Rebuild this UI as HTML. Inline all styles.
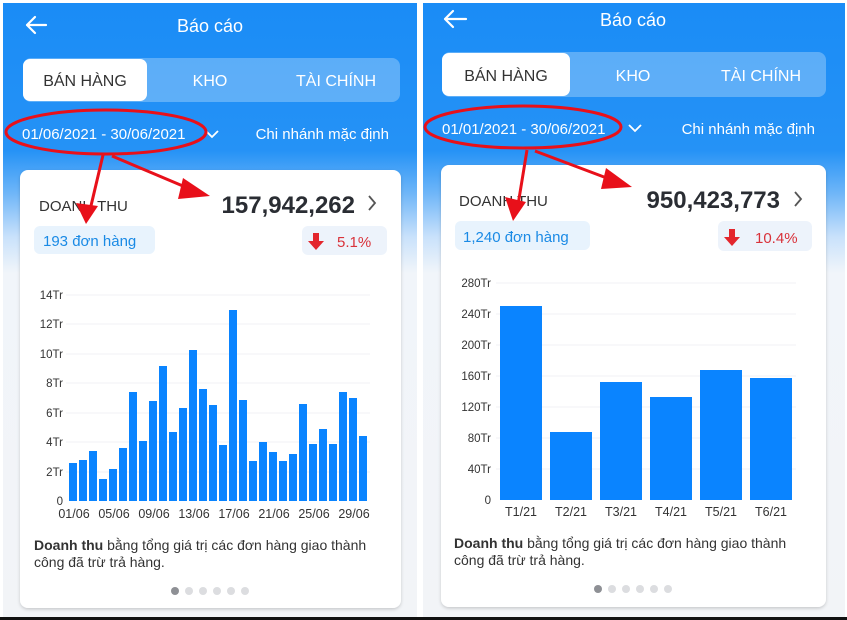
<!DOCTYPE html>
<html><head><meta charset="utf-8"><style>
html,body{margin:0;padding:0;background:#fff;width:847px;height:620px;overflow:hidden}
svg{display:block;font-family:"Liberation Sans",Arial,sans-serif}
</style></head><body>
<svg width="847" height="620" viewBox="0 0 847 620" xmlns="http://www.w3.org/2000/svg">
<defs>
<linearGradient id="bg" x1="0" y1="0" x2="0" y2="1">
<stop offset="0" stop-color="#1a8cf6"/>
<stop offset="0.24" stop-color="#2592f6"/>
<stop offset="0.31" stop-color="#6fb6f8"/>
<stop offset="0.38" stop-color="#c8e1fb"/>
<stop offset="0.44" stop-color="#f1f5fa"/>
<stop offset="1" stop-color="#f2f4f7"/>
</linearGradient>
<filter id="sh" x="-5%" y="-5%" width="110%" height="110%"><feDropShadow dx="0" dy="1.5" stdDeviation="1.5" flood-color="#000" flood-opacity="0.18"/></filter>
</defs>
<rect width="847" height="620" fill="#fff"/>
<rect x="3" y="3" width="414" height="614" fill="url(#bg)"/>
<rect x="423" y="3" width="422" height="614" fill="url(#bg)"/>
<rect x="0" y="617" width="847" height="3" fill="#111"/>

<!-- LEFT PANEL -->
<g>
<path d="M27 25 L46 25 M27 25 L35 17 M27 25 L35 33" stroke="#fff" stroke-width="2.2" fill="none" stroke-linecap="round"/>
<text x="210" y="32" fill="#fff" font-size="18" text-anchor="middle">Báo cáo</text>
<rect x="23" y="58" width="377" height="44" rx="8" fill="#fff" fill-opacity="0.28"/>
<rect x="23" y="59" width="124" height="42" rx="7" fill="#fff"/>
<text x="85" y="86" fill="#333" font-size="16" text-anchor="middle">BÁN HÀNG</text>
<text x="210" y="86" fill="#fff" font-size="16" text-anchor="middle">KHO</text>
<text x="336" y="86" fill="#fff" font-size="16" text-anchor="middle">TÀI CHÍNH</text>
<text x="22" y="139" fill="#fff" font-size="15">01/06/2021 - 30/06/2021</text>
<path d="M206 131 L212 137 L218 131" stroke="#fff" stroke-width="1.8" fill="none"/>
<text x="389" y="139" fill="#fff" font-size="15" text-anchor="end">Chi nhánh mặc định</text>
<ellipse cx="106" cy="132" rx="100" ry="22" fill="none" stroke="#e8101a" stroke-width="3"/>
<rect x="20" y="170" width="381" height="438" rx="8" fill="#fff" filter="url(#sh)"/>
<text x="39" y="211" fill="#333" font-size="15">DOANH THU</text>
<text x="355" y="213" fill="#2a2d33" font-size="24" font-weight="bold" text-anchor="end">157,942,262</text>
<path d="M369 196 L375 203 L369 210" stroke="#555" stroke-width="1.8" fill="none"/>
<rect x="34" y="226" width="121" height="28" rx="6" fill="#e8f3fd"/>
<text x="43" y="246" fill="#1a8ae5" font-size="15">193 đơn hàng</text>
<rect x="302" y="226" width="85" height="29" rx="6" fill="#edf3fb"/>
<path d="M313 233 h6 v8 h5 l-8 9 l-8 -9 h5 z" fill="#e3262d"/>
<text x="337" y="247" fill="#d9323a" font-size="15">5.1%</text>
<g stroke="#e8101a" stroke-width="3" fill="#e8101a">
<line x1="103" y1="155" x2="90" y2="210"/>
<polygon points="76,203 86,224 98,206" stroke="none"/>
<line x1="112" y1="156" x2="190" y2="189"/>
<polygon points="183,178 210,196 178,199" stroke="none"/>
</g>
<g stroke="#f1f2f4" stroke-width="1">
<line x1="66" y1="295" x2="370" y2="295"/><line x1="66" y1="324" x2="370" y2="324"/>
<line x1="66" y1="354" x2="370" y2="354"/><line x1="66" y1="383" x2="370" y2="383"/>
<line x1="66" y1="413" x2="370" y2="413"/><line x1="66" y1="442" x2="370" y2="442"/>
<line x1="66" y1="472" x2="370" y2="472"/>
</g>
<g font-size="11.5" fill="#333" text-anchor="end">
<text x="63" y="299">14Tr</text><text x="63" y="328">12Tr</text><text x="63" y="358">10Tr</text>
<text x="63" y="387">8Tr</text><text x="63" y="417">6Tr</text><text x="63" y="446">4Tr</text>
<text x="63" y="476">2Tr</text><text x="63" y="505">0</text>
</g>
<g fill="#0a84ff">
<rect x="69" y="463" width="8" height="38"/><rect x="79" y="460" width="8" height="41"/>
<rect x="89" y="451" width="8" height="50"/><rect x="99" y="479" width="8" height="22"/>
<rect x="109" y="469" width="8" height="32"/><rect x="119" y="448" width="8" height="53"/>
<rect x="129" y="392" width="8" height="109"/><rect x="139" y="441" width="8" height="60"/>
<rect x="149" y="401" width="8" height="100"/><rect x="159" y="366" width="8" height="135"/>
<rect x="169" y="432" width="8" height="69"/><rect x="179" y="408" width="8" height="93"/>
<rect x="189" y="350" width="8" height="151"/><rect x="199" y="389" width="8" height="112"/>
<rect x="209" y="405" width="8" height="96"/><rect x="219" y="445" width="8" height="56"/>
<rect x="229" y="310" width="8" height="191"/><rect x="239" y="400" width="8" height="101"/>
<rect x="249" y="461" width="8" height="40"/><rect x="259" y="442" width="8" height="59"/>
<rect x="269" y="452" width="8" height="49"/><rect x="279" y="461" width="8" height="40"/>
<rect x="289" y="454" width="8" height="47"/><rect x="299" y="404" width="8" height="97"/>
<rect x="309" y="444" width="8" height="57"/><rect x="319" y="429" width="8" height="72"/>
<rect x="329" y="444" width="8" height="57"/><rect x="339" y="392" width="8" height="109"/>
<rect x="349" y="398" width="8" height="103"/><rect x="359" y="436" width="8" height="65"/>
</g>
<g font-size="12.5" fill="#333" text-anchor="middle">
<text x="74" y="518">01/06</text><text x="114" y="518">05/06</text><text x="154" y="518">09/06</text>
<text x="194" y="518">13/06</text><text x="234" y="518">17/06</text><text x="274" y="518">21/06</text>
<text x="314" y="518">25/06</text><text x="354" y="518">29/06</text>
</g>
<text x="34" y="550" font-size="14" fill="#333"><tspan font-weight="bold">Doanh thu</tspan> bằng tổng giá trị các đơn hàng giao thành</text>
<text x="34" y="567" font-size="14" fill="#333">công đã trừ trả hàng.</text>
<circle cx="175" cy="591" r="4" fill="#8e9095"/>
<circle cx="189" cy="591" r="4" fill="#dcdde0"/><circle cx="203" cy="591" r="4" fill="#dcdde0"/>
<circle cx="217" cy="591" r="4" fill="#dcdde0"/><circle cx="231" cy="591" r="4" fill="#dcdde0"/>
<circle cx="245" cy="591" r="4" fill="#dcdde0"/>
</g>

<!-- RIGHT PANEL -->
<g>
<path d="M445 19 L466 19 M445 19 L453 11 M445 19 L453 27" stroke="#fff" stroke-width="2.2" fill="none" stroke-linecap="round"/>
<text x="633" y="26" fill="#fff" font-size="18" text-anchor="middle">Báo cáo</text>
<rect x="442" y="52" width="384" height="45" rx="8" fill="#fff" fill-opacity="0.28"/>
<rect x="442" y="53" width="128" height="43" rx="7" fill="#fff"/>
<text x="506" y="81" fill="#333" font-size="16" text-anchor="middle">BÁN HÀNG</text>
<text x="633" y="81" fill="#fff" font-size="16" text-anchor="middle">KHO</text>
<text x="761" y="81" fill="#fff" font-size="16" text-anchor="middle">TÀI CHÍNH</text>
<text x="442" y="134" fill="#fff" font-size="15">01/01/2021 - 30/06/2021</text>
<path d="M629 125 L635 131 L641 125" stroke="#fff" stroke-width="1.8" fill="none"/>
<text x="815" y="134" fill="#fff" font-size="15" text-anchor="end">Chi nhánh mặc định</text>
<ellipse cx="523" cy="127" rx="98" ry="21" fill="none" stroke="#e8101a" stroke-width="3"/>
<rect x="441" y="165" width="385" height="442" rx="8" fill="#fff" filter="url(#sh)"/>
<text x="459" y="206" fill="#333" font-size="15">DOANH THU</text>
<text x="780" y="208" fill="#2a2d33" font-size="24" font-weight="bold" text-anchor="end">950,423,773</text>
<path d="M795 192 L801 199 L795 206" stroke="#555" stroke-width="1.8" fill="none"/>
<rect x="455" y="221" width="135" height="29" rx="6" fill="#e8f3fd"/>
<text x="463" y="242" fill="#1a8ae5" font-size="15">1,240 đơn hàng</text>
<rect x="718" y="221" width="94" height="30" rx="6" fill="#edf3fb"/>
<path d="M729 229 h6 v8 h5 l-8 9 l-8 -9 h5 z" fill="#e3262d"/>
<text x="755" y="243" fill="#d9323a" font-size="15">10.4%</text>
<g stroke="#e8101a" stroke-width="3" fill="#e8101a">
<line x1="527" y1="150" x2="518" y2="205"/>
<polygon points="505,197 513,221 526,202" stroke="none"/>
<line x1="535" y1="151" x2="612" y2="180"/>
<polygon points="606,168 632,187 601,189" stroke="none"/>
</g>
<g stroke="#f1f2f4" stroke-width="1">
<line x1="496" y1="283" x2="796" y2="283"/><line x1="496" y1="314" x2="796" y2="314"/>
<line x1="496" y1="345" x2="796" y2="345"/><line x1="496" y1="376" x2="796" y2="376"/>
<line x1="496" y1="407" x2="796" y2="407"/><line x1="496" y1="438" x2="796" y2="438"/>
<line x1="496" y1="469" x2="796" y2="469"/>
</g>
<g font-size="11.5" fill="#333" text-anchor="end">
<text x="491" y="287">280Tr</text><text x="491" y="318">240Tr</text><text x="491" y="349">200Tr</text>
<text x="491" y="380">160Tr</text><text x="491" y="411">120Tr</text><text x="491" y="442">80Tr</text>
<text x="491" y="473">40Tr</text><text x="491" y="504">0</text>
</g>
<g fill="#0a84ff">
<rect x="500" y="306" width="42" height="194"/><rect x="550" y="432" width="42" height="68"/>
<rect x="600" y="382" width="42" height="118"/><rect x="650" y="397" width="42" height="103"/>
<rect x="700" y="370" width="42" height="130"/><rect x="750" y="378" width="42" height="122"/>
</g>
<g font-size="12.5" fill="#333" text-anchor="middle">
<text x="521" y="516">T1/21</text><text x="571" y="516">T2/21</text><text x="621" y="516">T3/21</text>
<text x="671" y="516">T4/21</text><text x="721" y="516">T5/21</text><text x="771" y="516">T6/21</text>
</g>
<text x="454" y="548" font-size="14" fill="#333"><tspan font-weight="bold">Doanh thu</tspan> bằng tổng giá trị các đơn hàng giao thành</text>
<text x="454" y="565" font-size="14" fill="#333">công đã trừ trả hàng.</text>
<circle cx="598" cy="589" r="4" fill="#8e9095"/>
<circle cx="612" cy="589" r="4" fill="#dcdde0"/><circle cx="626" cy="589" r="4" fill="#dcdde0"/>
<circle cx="640" cy="589" r="4" fill="#dcdde0"/><circle cx="654" cy="589" r="4" fill="#dcdde0"/>
<circle cx="668" cy="589" r="4" fill="#dcdde0"/>
</g>
</svg>
</body></html>
